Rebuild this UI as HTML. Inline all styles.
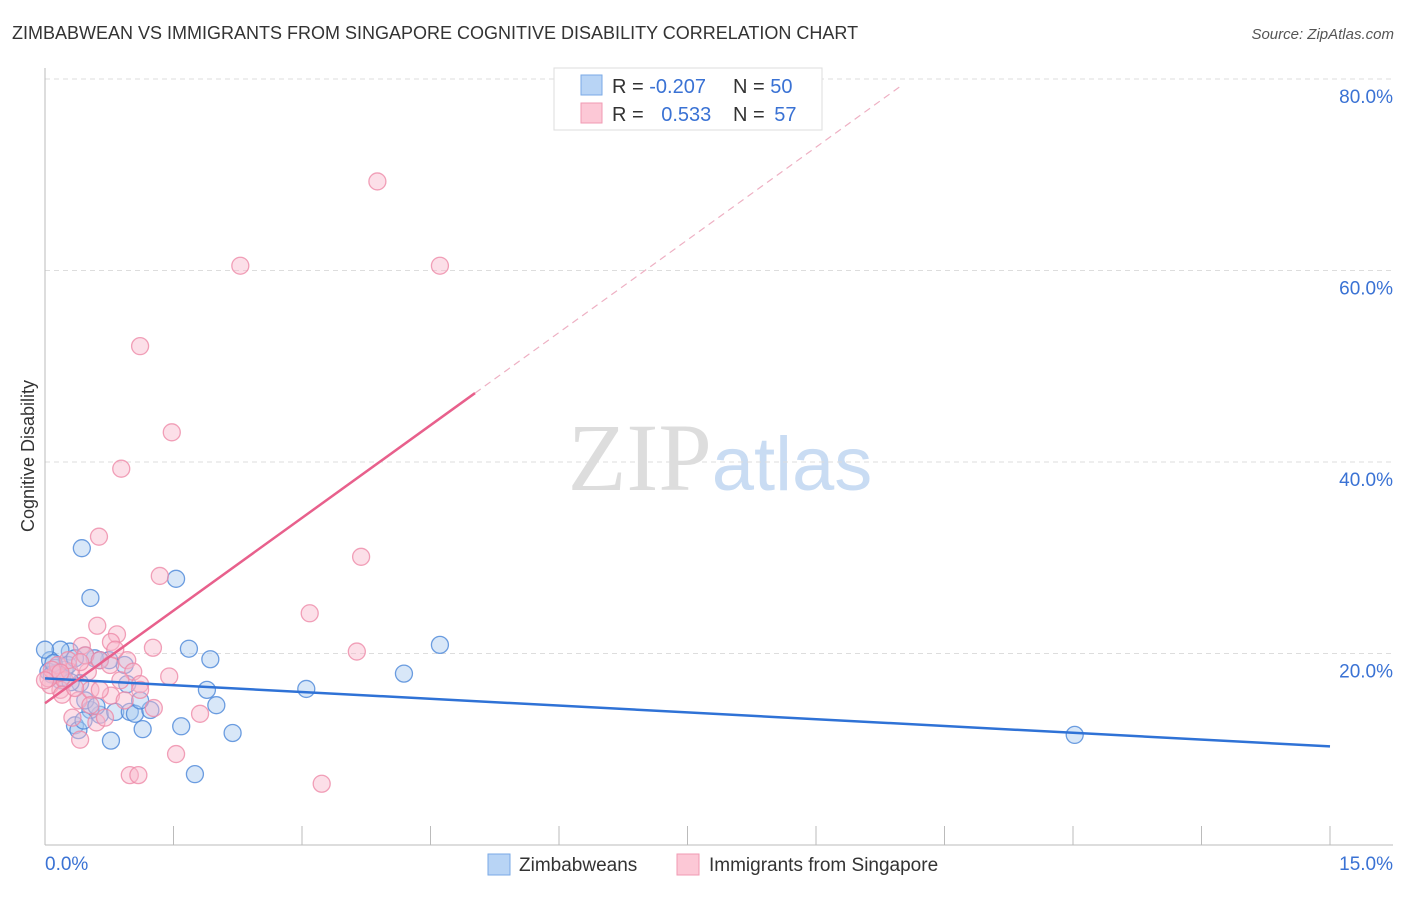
<!DOCTYPE html>
<html><head><meta charset="utf-8"><style>
body{margin:0;background:#fff;font-family:"Liberation Sans",sans-serif;}
svg text{font-family:"Liberation Sans",sans-serif;}
</style></head><body>
<svg id="chart" width="1406" height="892" viewBox="0 0 1406 892" xmlns="http://www.w3.org/2000/svg">
<text x="12" y="39" font-size="18" fill="#333">ZIMBABWEAN VS IMMIGRANTS FROM SINGAPORE COGNITIVE DISABILITY CORRELATION CHART</text>
<text x="1394" y="39" font-size="15" fill="#555" text-anchor="end" font-style="italic">Source: ZipAtlas.com</text>
<text x="720" y="490" font-size="96" text-anchor="middle"><tspan fill="#ddd" font-family="Liberation Serif">ZIP</tspan><tspan fill="#c9dcf3" font-size="76">atlas</tspan></text>
<g id="grid"></g>
<g id="axes"></g>
<g id="pts-blue"></g>
<g id="pts-pink"></g>
<g id="trends"></g>
<text transform="translate(34,456) rotate(-90)" font-size="18" fill="#333" text-anchor="middle">Cognitive Disability</text>
<g>
<rect x="554" y="68" width="268" height="62" fill="#fff" stroke="#ddd"/>
<rect x="581" y="75" width="21" height="20" fill="#b8d4f5" stroke="#7aa9e6"/>
<rect x="581" y="103" width="21" height="20" fill="#fcc8d6" stroke="#f09ab3"/>
<text x="612" y="93" font-size="20" fill="#333">R = <tspan fill="#3a72d4">-0.207</tspan></text>
<text x="733" y="93" font-size="20" fill="#333">N = <tspan fill="#3a72d4">50</tspan></text>
<text x="612" y="121" font-size="20" fill="#333">R = <tspan fill="#3a72d4" dx="12">0.533</tspan></text>
<text x="733" y="121" font-size="20" fill="#333">N = <tspan fill="#3a72d4" dx="4">57</tspan></text>
</g>
<g>
<rect x="488" y="854" width="22" height="21" fill="#b8d4f5" stroke="#7aa9e6"/>
<text x="519" y="871" font-size="19" fill="#333">Zimbabweans</text>
<rect x="677" y="854" width="22" height="21" fill="#fcc8d6" stroke="#f09ab3"/>
<text x="709" y="871" font-size="19" fill="#333">Immigrants from Singapore</text>
</g>
</svg>
<script>
const xTicks=[0,1.5,3,4.5,6,7.5,9,10.5,12,13.5,15];
const yTicks=[20,40,60,80];
const yTickLabels=["20.0%","40.0%","60.0%","80.0%"];
const xEndLabels=["0.0%","15.0%"];
const blueX=[.43,.53,1.53,1.68,1.93,1.89,2.0,1.59,2.19,1.75,3.05,4.19,4.61,12.02,.77,1.14,.96,.93,.75,.58,.47,.29,.18,.06,.12,.04,.23,.41,.35,.39,.64,.82,.99,1.05,1.23,.53,.18,.08,0,.27,.35,.64,1.11,.47,.15,.2,.1,.3,.6,.45];
const blueY=[31.0,25.8,27.8,20.5,19.4,16.2,14.6,12.4,11.7,7.4,16.3,17.9,20.9,11.5,10.9,12.1,16.8,18.8,19.3,19.5,19.8,20.2,20.4,19.3,18.5,18.1,18.3,16.9,12.5,12.0,13.6,13.9,13.9,13.7,14.1,14.1,17.2,17.8,20.4,18.8,19.5,19.3,15.1,15.1,18.0,17.5,19.0,17.0,14.5,13.0];
const pinkX=[3.88,2.28,4.61,1.11,1.48,.89,.63,1.34,3.69,3.09,3.64,.61,.84,.77,.43,.47,1.26,.96,1.03,1.45,1.11,.77,1.81,1.27,.99,1.09,1.53,3.23,.41,.32,.6,.39,.53,.18,.06,.12,.23,.29,.04,.15,.5,.64,.88,.76,.27,.53,.7,.93,.2,.35,.08,.18,0,.41,.82,.64,1.11];
const pinkY=[69.3,60.5,60.5,52.1,43.1,39.3,32.2,28.1,30.1,24.2,20.2,22.9,22.0,21.2,20.8,19.8,20.6,19.3,18.1,17.6,16.8,15.6,13.7,14.3,7.3,7.3,9.5,6.4,11.0,13.3,12.8,15.1,16.2,16.2,16.7,17.8,17.2,18.1,17.4,18.8,18.1,19.3,17.2,18.8,19.3,14.6,13.3,15.1,15.7,16.4,18.3,18.0,17.2,19.1,20.4,16.2,16.2];
const blueTrend=[[0,17.4],[15,10.3]];
const pinkTrend=[[0,14.8],[5.02,47.2]];
const pinkTrendExt=[[5.02,47.2],[9.98,79.2]];
const X=v=>45+v/15*1285, Y=v=>845-v/20*191.5;
const NS="http://www.w3.org/2000/svg";
function mk(tag,attrs,parent){const e=document.createElementNS(NS,tag);for(const k in attrs)e.setAttribute(k,attrs[k]);parent.appendChild(e);return e;}
const grid=document.getElementById('grid'),axes=document.getElementById('axes');
yTicks.forEach((t,i)=>{
 const l=mk('line',{x1:45,x2:1393,y1:Y(t),y2:Y(t),stroke:'#ddd','stroke-dasharray':'5,4'},grid);
 
 
 const tx=mk('text',{x:1393,y:Y(t)+24,'font-size':19,fill:'#3a72d4','text-anchor':'end'},axes);
 tx.textContent=yTickLabels[i];
 
 
});
let a=mk('line',{x1:45,x2:45,y1:68,y2:845,stroke:'#bbb'},axes);


a=mk('line',{x1:45,x2:1393,y1:845,y2:845,stroke:'#bbb'},axes);


xTicks.forEach(t=>{const l=mk('line',{x1:X(t),x2:X(t),y1:826,y2:845,stroke:'#bbb'},axes);
 
 });
let t0=mk('text',{x:45,y:870,'font-size':19,fill:'#3a72d4'},axes);t0.textContent=xEndLabels[0];


let t1=mk('text',{x:1393,y:870,'font-size':19,fill:'#3a72d4','text-anchor':'end'},axes);t1.textContent=xEndLabels[1];


function pts(xs,ys,g,fill,stroke,name){xs.forEach((x,i)=>{const c=mk('circle',{cx:X(x),cy:Y(ys[i]),r:8.5,fill:fill,'fill-opacity':0.45,stroke:stroke,'stroke-width':1.3,'stroke-opacity':0.8},g);
 
 });}
pts(blueX,blueY,document.getElementById('pts-blue'),'#a9c9f0','#4a86d8','zimbabwean-point');
pts(pinkX,pinkY,document.getElementById('pts-pink'),'#f9b9cb','#ee8aa8','singapore-point');
const tr=document.getElementById('trends');
let l1=mk('line',{x1:X(blueTrend[0][0]),y1:Y(blueTrend[0][1]),x2:X(blueTrend[1][0]),y2:Y(blueTrend[1][1]),stroke:'#2f72d6','stroke-width':2.5},tr);


let l2=mk('line',{x1:X(pinkTrend[0][0]),y1:Y(pinkTrend[0][1]),x2:X(pinkTrend[1][0]),y2:Y(pinkTrend[1][1]),stroke:'#e8608c','stroke-width':2.5},tr);


let l3=mk('line',{x1:X(pinkTrendExt[0][0]),y1:Y(pinkTrendExt[0][1]),x2:X(pinkTrendExt[1][0]),y2:Y(pinkTrendExt[1][1]),stroke:'#eeb0c3','stroke-width':1.2,'stroke-dasharray':'7,5'},tr);


</script>
</body></html>
